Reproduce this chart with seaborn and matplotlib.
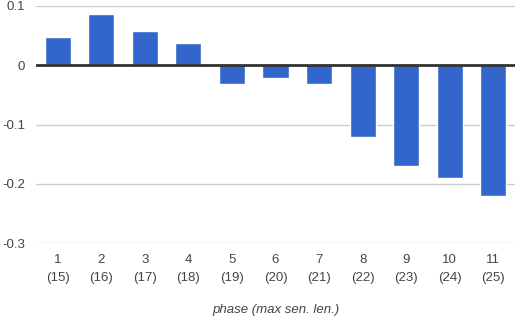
import pandas as pd
import numpy as np
import seaborn as sns
import matplotlib
matplotlib.use('Agg')
import matplotlib.pyplot as plt

phases = ['1', '2', '3', '4', '5', '6', '7', '8', '9', '10', '11']
max_len = ['15', '16', '17', '18', '19', '20', '21', '22', '23', '24', '25']
values = [0.047, 0.086, 0.057, 0.037, -0.032, -0.022, -0.032, -0.121, -0.17, -0.19, -0.221]

labels = [p + '\n(' + m + ')' for p, m in zip(phases, max_len)]
df = pd.DataFrame({'label': labels, 'value': values})

sns.set_style('white')
plt.rcParams['font.family'] = ['Liberation Sans', 'DejaVu Sans']

fig = plt.figure(figsize=(5.16, 3.16), dpi=100)
ax = fig.add_axes([36 / 516, 1 - 243 / 316, 479 / 516, 237 / 316])

sns.barplot(data=df, x='label', y='value', color='#3366cc', saturation=1,
            width=0.6, ax=ax, zorder=3)

ax.set_ylim(-0.3, 0.1)
ax.set_yticks([0.1, 0, -0.1, -0.2, -0.3])
ax.set_yticklabels(['0.1', '0', '-0.1', '-0.2', '-0.3'])
ax.yaxis.grid(True, color='#cccccc', linewidth=1)
ax.axhline(0, color='#333333', linewidth=2, zorder=4)
for s in ax.spines.values():
    s.set_visible(False)
ax.tick_params(axis='both', length=0, labelsize=9.5, labelcolor='#444444')
ax.tick_params(axis='y', pad=8)
ax.tick_params(axis='x', pad=8)
for t in ax.get_xticklabels():
    t.set_linespacing(1.6)
ax.set_ylabel('')
ax.set_xlabel('phase (max sen. len.)', fontsize=9.5, style='italic', color='#444444', labelpad=15)

fig.savefig('out.png', dpi=100)
